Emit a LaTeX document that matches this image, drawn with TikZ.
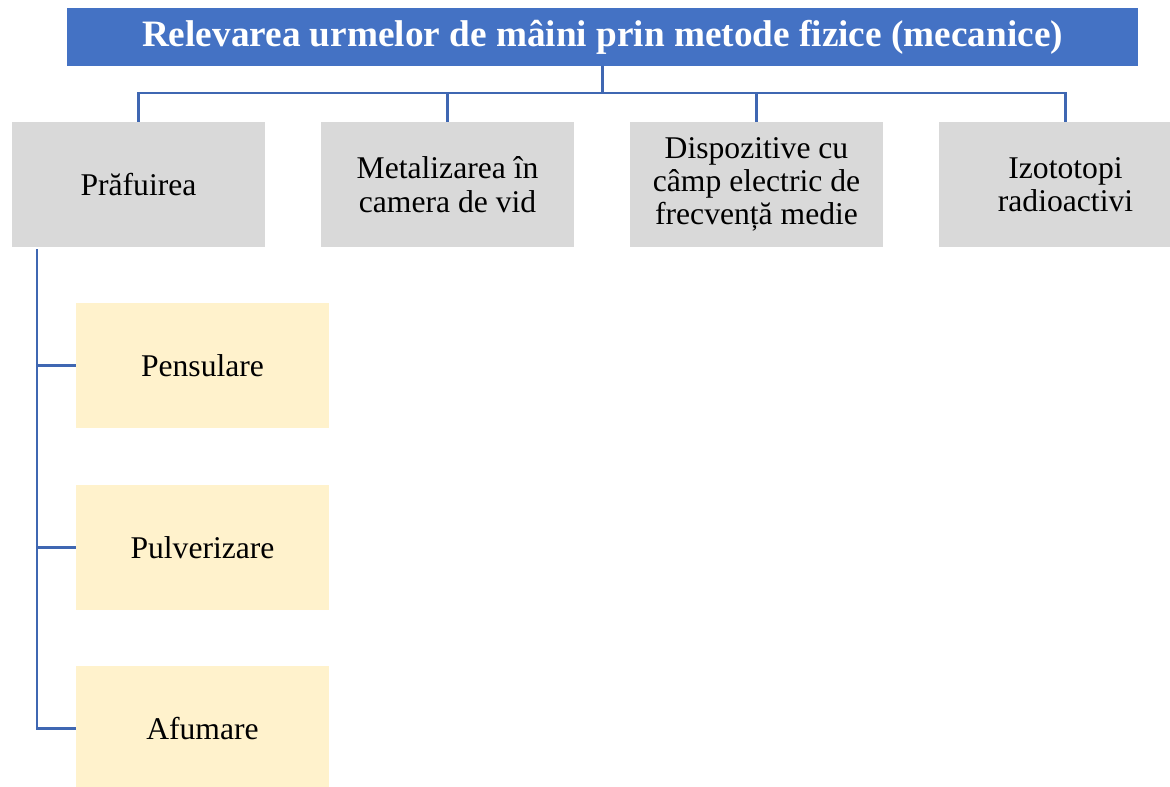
\documentclass[tikz,border=0pt]{standalone}
\usepackage{fontspec}
\setmainfont{Liberation Serif}
\definecolor{titleblue}{HTML}{4472C4}
\definecolor{linkblue}{HTML}{3F67B2}
\definecolor{boxgray}{HTML}{D9D9D9}
\definecolor{boxyellow}{HTML}{FFF2CC}
\tikzset{
  methodbox/.style={fill=boxgray,minimum width=5.06cm,minimum height=2.5cm,inner sep=0pt,align=center,font=\fontsize{18}{19}\selectfont},
  subbox/.style={fill=boxyellow,minimum width=5.06cm,minimum height=2.5cm,inner sep=0pt,align=center,font=\fontsize{18}{19}\selectfont},
  link/.style={draw=linkblue,line width=1.4pt}
}
\begin{document}
\begin{tikzpicture}[x=0.02cm,y=-0.02cm]
    \useasboundingbox (0,0) rectangle (1170,787);
    \node[fill=titleblue,text=white,minimum width=21.42cm,minimum height=1.16cm,inner sep=0pt,font=\bfseries\fontsize{21.2}{23}\selectfont] (title) at (602.5,37) {Relevarea urmelor de mâini prin metode fizice (mecanice)};
    \node[methodbox] (pra) at (138.5,184.5) {Prăfuirea};
    \node[methodbox] (met) at (447.5,184.5) {Metalizarea în\\camera de vid};
    \node[methodbox] (dis) at (756.5,184.5) {Dispozitive cu\\câmp electric de\\frecvență medie};
    \node[methodbox] (izo) at (1065.5,184.5) {Izototopi\\radioactivi};
    \node[subbox] (pen) at (202.5,365.5) {Pensulare};
    \node[subbox] (pul) at (202.5,547.5) {Pulverizare};
    \node[subbox] (afu) at (202.5,728.5) {Afumare};
    \coordinate (bus) at (602.5,93);
    \coordinate (spine) at (37,249);
    \draw[link] (title.south) -- (title.south |- bus);
    \draw[link] (pra.north) |- (bus) -| (izo.north);
    \draw[link] (met.north) -- (met.north |- bus);
    \draw[link] (dis.north) -- (dis.north |- bus);
    \draw[link] (spine) |- (afu.west);
    \draw[link] (spine |- pen.west) -- (pen.west);
    \draw[link] (spine |- pul.west) -- (pul.west);
\end{tikzpicture}
\end{document}
